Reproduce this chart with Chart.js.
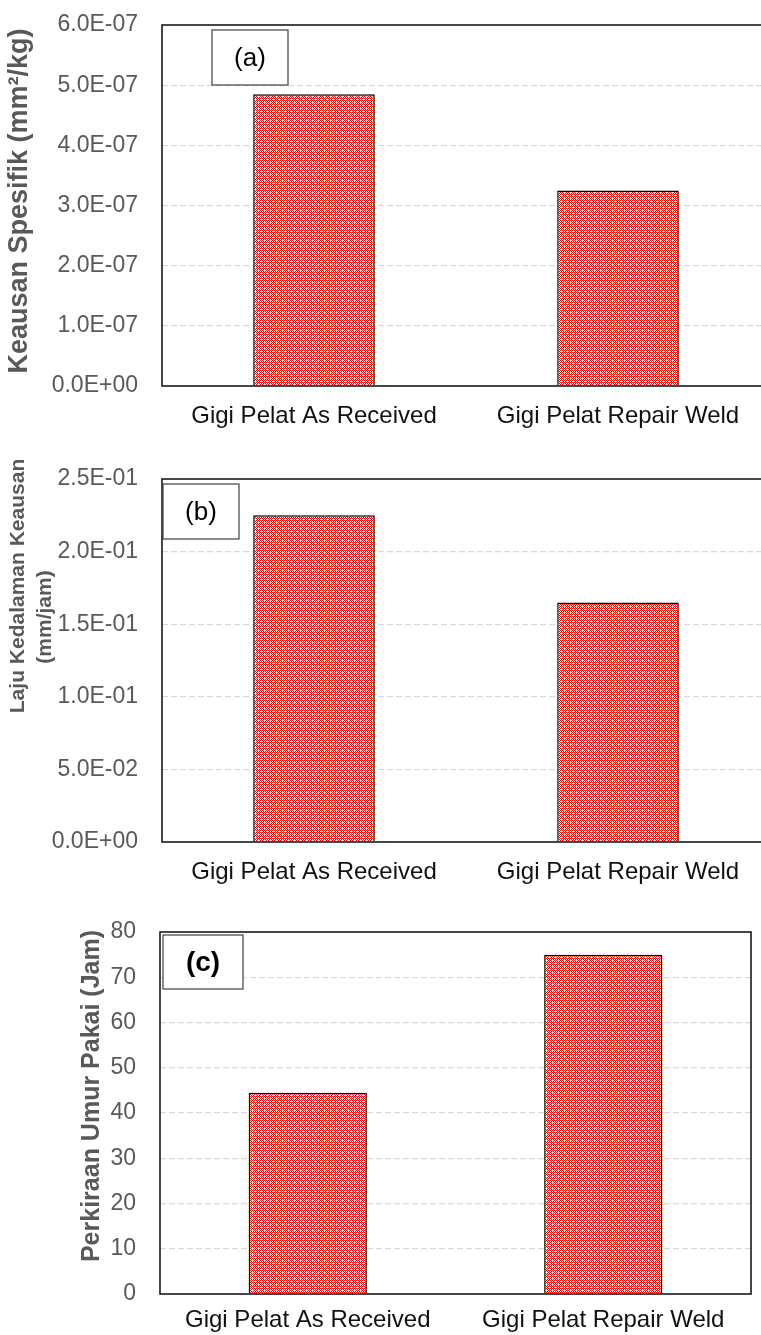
<!DOCTYPE html>
<html>
<head>
<meta charset="utf-8">
<script src="https://cdn.jsdelivr.net/npm/chart.js@4/dist/chart.umd.min.js"></script>
<style>
  html, body { margin:0; padding:0; background:#fff; width:761px; height:1335px; overflow:hidden; }
  .box { position:absolute; left:0; }
</style>
</head>
<body>
<div class="box" style="top:0px;"><canvas id="ca" width="790" height="440"></canvas></div>
<div class="box" style="top:450px;"><canvas id="cb" width="790" height="440"></canvas></div>
<div class="box" style="top:900px;"><canvas id="cc" width="761" height="435"></canvas></div>
<script>
// ---- data ----
const categories = ['Gigi Pelat As Received', 'Gigi Pelat Repair Weld'];
const keausanSpesifik = [4.85e-7, 3.25e-7];
const lajuKedalaman = [0.225, 0.165];
const umurPakai = [44.5, 75];
const ticksA = [0, 1e-7, 2e-7, 3e-7, 4e-7, 5e-7, 6e-7];
const ticksB = [0, 0.05, 0.10, 0.15, 0.20, 0.25];
const ticksC = [0, 10, 20, 30, 40, 50, 60, 70, 80];

const FONT = "'Liberation Sans', Arial, sans-serif";

function sci(v) {
  const s = Number(v).toExponential(1);
  const [m, e] = s.split('e');
  const sign = e[0] === '-' ? '-' : '+';
  const d = e.replace(/[+-]/, '');
  return m + 'E' + sign + (d.length < 2 ? '0' + d : d);
}

function makePattern() {
  const c = document.createElement('canvas');
  c.width = 6; c.height = 6;
  const x = c.getContext('2d');
  x.fillStyle = '#ffffff';
  x.fillRect(0, 0, 6, 6);
  for (let i = 0; i < 6; i++) {
    for (let j = 0; j < 6; j++) {
      if ((i + j) % 2 === 0 && !((i === 0 && j === 0) || (i === 3 && j === 3))) {
        x.fillStyle = '#ff0000';
        x.fillRect(i, j, 1, 1);
      }
    }
  }
  x.fillStyle = '#ffd0d0';
  [[1,0],[5,0],[0,1],[0,5],[2,3],[4,3],[3,2],[3,4]].forEach(([a,b]) => x.fillRect(a, b, 1, 1));
  return c;
}
const patCanvas = makePattern();

const decor = {
  id: 'decor',
  afterDraw(chart, args, o) {
    const ctx = chart.ctx;
    const a = chart.chartArea;
    ctx.save();
    // plot frame
    ctx.strokeStyle = '#1a1a1a';
    ctx.lineWidth = 1.6;
    ctx.strokeRect(a.left, a.top, a.right - a.left, a.bottom - a.top);
    // panel label box
    const bx = a.left + o.box.dx, by = a.top + o.box.dy;
    ctx.fillStyle = '#fff';
    ctx.fillRect(bx, by, o.box.w, o.box.h);
    ctx.strokeStyle = '#404040';
    ctx.lineWidth = 1.2;
    ctx.strokeRect(bx, by, o.box.w, o.box.h);
    ctx.fillStyle = '#000';
    ctx.font = o.box.font;
    ctx.textAlign = 'center';
    ctx.textBaseline = 'middle';
    ctx.fillText(o.box.text, bx + o.box.w / 2, by + o.box.h / 2 + 1);
    // axis title
    ctx.fillStyle = '#595959';
    ctx.font = o.title.font;
    o.title.lines.forEach(l => {
      ctx.save();
      ctx.translate(l.x, l.y);
      ctx.rotate(-Math.PI / 2);
      ctx.textAlign = 'center';
      ctx.textBaseline = 'middle';
      ctx.fillText(l.text, 0, 0);
      ctx.restore();
    });
    ctx.restore();
  }
};

function makeChart(id, values, ticksArr, fmt, pad, xH, xPad, decorOpts) {
  const ctx = document.getElementById(id).getContext('2d');
  const pattern = ctx.createPattern(patCanvas, 'repeat');
  const maxV = ticksArr[ticksArr.length - 1];
  return new Chart(ctx, {
    type: 'bar',
    data: {
      labels: categories,
      datasets: [{
        data: values,
        backgroundColor: pattern,
        borderColor: '#000',
        borderWidth: 1.5,
        barPercentage: 0.4,
        categoryPercentage: 1.0
      }]
    },
    plugins: [decor],
    options: {
      responsive: false,
      devicePixelRatio: 1,
      animation: false,
      layout: { padding: { left: pad.left, top: pad.top, right: pad.right, bottom: 0 } },
      plugins: {
        legend: { display: false },
        tooltip: { enabled: false },
        decor: decorOpts
      },
      scales: {
        x: {
          grid: { display: false, drawTicks: false },
          border: { display: false },
          ticks: { color: '#111', font: { family: FONT, size: 24 }, padding: xPad, maxRotation: 0 },
          afterFit: s => { s.height = xH; }
        },
        y: {
          min: 0, max: maxV,
          afterBuildTicks: s => { s.ticks = ticksArr.map(v => ({ value: v })); },
          grid: {
            drawTicks: true,
            tickLength: 24,
            tickColor: 'rgba(0,0,0,0)',
            lineWidth: 1.3,
            color: c => (c.tick && (c.tick.value === 0 || Math.abs(c.tick.value - maxV) < maxV * 1e-6)) ? 'rgba(0,0,0,0)' : '#d9d9d9'
          },
          border: { display: false, dash: [6, 3] },
          ticks: { color: '#595959', font: { family: FONT, size: 23 }, padding: 0, callback: fmt },
          afterFit: s => { s.width = pad.yw; }
        }
      }
    }
  });
}

// (a)
makeChart('ca', keausanSpesifik, ticksA, v => sci(v),
  { left: 0, top: 25, right: 20, yw: 162 }, 54, 16,
  { box: { dx: 50, dy: 5, w: 76, h: 55, text: '(a)', font: '26px ' + FONT },
    title: { font: 'bold 27px ' + FONT, lines: [{ x: 20, y: 201, text: 'Keausan Spesifik (mm²/kg)' }] } });

// (b)
makeChart('cb', lajuKedalaman, ticksB, v => sci(v),
  { left: 0, top: 29, right: 20, yw: 162 }, 48, 16,
  { box: { dx: 1, dy: 5, w: 76, h: 55, text: '(b)', font: '26px ' + FONT },
    title: { font: 'bold 21px ' + FONT, lines: [
      { x: 18, y: 136, text: 'Laju Kedalaman Keausan' },
      { x: 45, y: 167, text: '(mm/jam)' } ] } });

// (c)
makeChart('cc', umurPakai, ticksC, v => String(v),
  { left: 0, top: 32, right: 10, yw: 160 }, 41, 12,
  { box: { dx: 3, dy: 3, w: 80, h: 54, text: '(c)', font: 'bold 28px ' + FONT },
    title: { font: 'bold 25px ' + FONT, lines: [{ x: 92, y: 196, text: 'Perkiraan Umur Pakai (Jam)' }] } });
</script>
</body>
</html>
